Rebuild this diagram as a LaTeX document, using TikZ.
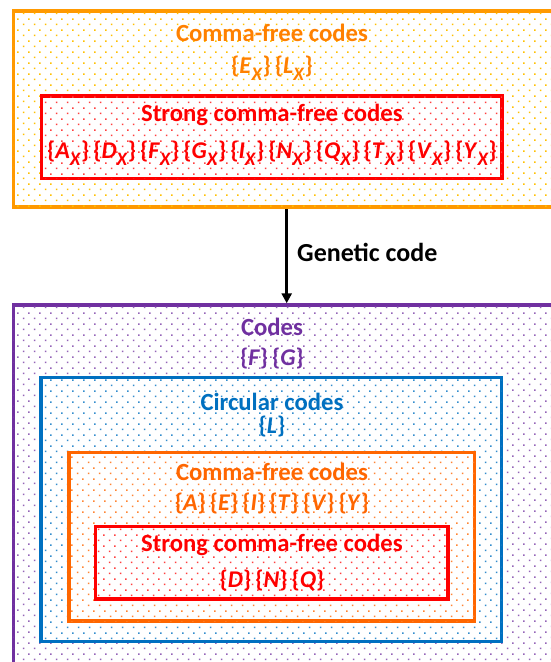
\documentclass[tikz,border=0pt]{standalone}
\usepackage{fontspec}
\setmainfont{Carlito}
\usetikzlibrary{arrows.meta,patterns.meta}
\definecolor{topbord}{HTML}{FF9900}
\definecolor{toptext}{HTML}{FF8000}
\definecolor{topdot}{HTML}{FFC000}
\definecolor{cred}{HTML}{FF0000}
\definecolor{cpurple}{HTML}{7030A0}
\definecolor{cblue}{HTML}{0070C0}
\definecolor{corange}{HTML}{FF6600}
\pgfdeclarepattern{
  name=dotgrid,
  type=uncolored,
  bottom left={\pgfpoint{0pt}{0pt}},
  top right={\pgfpoint{10.67pt}{10.67pt}},
  tile size={\pgfpoint{10.67pt}{10.67pt}},
  code={
    \pgfpathrectangle{\pgfpoint{2pt}{2pt}}{\pgfpoint{1.5pt}{1.5pt}}
    \pgfpathrectangle{\pgfpoint{7.33pt}{7.33pt}}{\pgfpoint{1.5pt}{1.5pt}}
    \pgfusepath{fill}
  }
}
\newcommand{\setx}[1]{\{\textit{#1}\raisebox{-0.3em}{\fontsize{19}{19}\selectfont\textit{X}}\}}
\newcommand{\setp}[1]{\{\textit{#1}\}}
\newcommand{\gap}{\hspace{4pt}}
\tikzset{
  lbl/.style={anchor=base, font=\fontsize{24}{28}\selectfont\bfseries, inner sep=0pt},
  ttl/.style={lbl, font=\fontsize{24.7}{28}\selectfont\bfseries},
  dotbox/.style={line width=3.5pt, fill=white, postaction={pattern=dotgrid, pattern color=#1}},
}
\begin{document}
\begin{tikzpicture}[x=1pt,y=-1pt]
\useasboundingbox (0,0) rectangle (551,662);
\clip (0,0) rectangle (551,662);
% top group
\draw[dotbox=topdot, draw=topbord] (13.3,11) rectangle (600,207);
\draw[dotbox=cred!75, draw=cred] (41.5,96) rectangle (502,178.5);
\node[ttl, text=toptext] (t1) at (272,41) {Comma-free codes};
\node[lbl, text=toptext] (t2) at (272,73) {\setx{E}\gap\setx{L}};
\node[ttl, text=cred] (t3) at (272,121) {Strong comma-free codes};
\node[lbl, text=cred] (t4) at (272,158) {\setx{A}\gap\setx{D}\gap\setx{F}\gap\setx{G}\gap\setx{I}\gap\setx{N}\gap\setx{Q}\gap\setx{T}\gap\setx{V}\gap\setx{Y}};
% bottom group
\draw[dotbox=cpurple!75, draw=cpurple] (13.3,305) rectangle (600,700);
\draw[dotbox=cblue!80, draw=cblue] (41,377.7) rectangle (501.3,641.3);
\draw[dotbox=corange!80, draw=corange] (69,452.7) rectangle (474.7,621);
\draw[dotbox=cred!75, draw=cred] (95.7,526.7) rectangle (448,599);
\node[ttl, text=cpurple] (b1) at (272,335) {Codes};
\node[lbl, text=cpurple] (b2) at (272,365) {\setp{F}\gap\setp{G}};
\node[ttl, text=cblue] (b3) at (272,410) {Circular codes};
\node[lbl, text=cblue] (b4) at (272,433) {\setp{L}};
\node[ttl, text=corange] (b5) at (272,480.7) {Comma-free codes};
\node[lbl, text=corange] (b6) at (272,510) {\setp{A}\gap\setp{E}\gap\setp{I}\gap\setp{T}\gap\setp{V}\gap\setp{Y}};
\node[ttl, text=cred] (b7) at (272,551.7) {Strong comma-free codes};
\node[lbl, text=cred] (b8) at (272,587.7) {\setp{D}\gap\setp{N}\gap\setp{Q}};
% arrow
\coordinate (aS) at (286.7,208.8);
\coordinate (aE) at (286.7,303.3);
\draw[line width=2.5pt, -{Triangle[width=10pt,length=10pt]}] (aS) -- (aE);
\node[lbl, anchor=base west, text=black, font=\fontsize{26}{30}\selectfont\bfseries] (gc) at (297,261) {Genetic code};
\end{tikzpicture}
\end{document}
